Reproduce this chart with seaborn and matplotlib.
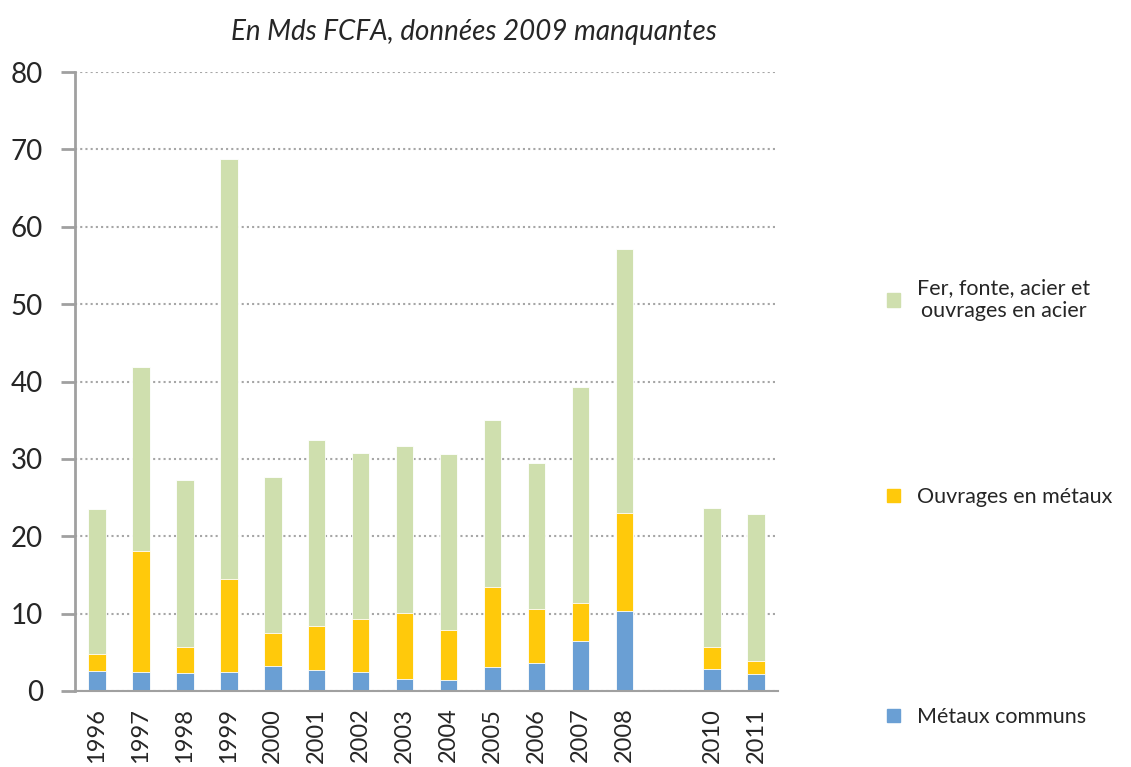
import numpy as np
import pandas as pd
import matplotlib.pyplot as plt
import seaborn as sns
from matplotlib.patches import Patch

# values (Mds FCFA), 2009 missing
annees = ['1996', '1997', '1998', '1999', '2000', '2001', '2002', '2003',
          '2004', '2005', '2006', '2007', '2008', '2009', '2010', '2011']
metaux_communs = [2.6, 2.4, 2.3, 2.5, 3.2, 2.75, 2.4, 1.6,
                  1.4, 3.1, 3.6, 6.5, 10.4, np.nan, 2.9, 2.15]
ouvrages_metaux = [2.2, 15.7, 3.4, 12.0, 4.3, 5.65, 6.9, 8.5,
                   6.5, 10.3, 7.0, 4.9, 12.6, np.nan, 2.8, 1.75]
fer_fonte_acier = [18.7, 23.8, 21.6, 54.2, 20.1, 24.1, 21.4, 21.5,
                   22.7, 21.6, 18.9, 27.9, 34.1, np.nan, 17.9, 19.0]
labels_x = [a if a != '2009' else '' for a in annees]

noms = ['Fer, fonte, acier et\nouvrages en acier', 'Ouvrages en métaux', 'Métaux communs']
couleurs = ['#cfdfae', '#ffc90b', '#6a9fd4']

df = pd.DataFrame({'annee': annees, 'metaux': metaux_communs,
                   'ouvrages': ouvrages_metaux, 'fer': fer_fonte_acier})
df['bas'] = df['metaux']
df['milieu'] = df['metaux'] + df['ouvrages']
df['total'] = df['milieu'] + df['fer']

sns.set_style('white')
plt.rcParams['font.family'] = ['Lato', 'DejaVu Sans']

fig = plt.figure(figsize=(11.31, 7.67), dpi=100)
ax = fig.add_axes([0.0663, 0.0991, 0.6217, 0.8070])

# stacked bars: draw cumulative totals back to front
for col, c in zip(['total', 'milieu', 'bas'], couleurs):
    sns.barplot(data=df, x='annee', y=col, order=annees, color=c, width=0.4,
                saturation=1, errorbar=None, edgecolor='white', linewidth=0.6, ax=ax)

ax.set_xlim(-0.5, len(annees) - 0.5)
ax.set_ylim(0, 80)
ax.set_yticks(range(0, 81, 10))
ax.set_xlabel('')
ax.set_ylabel('')
ax.set_xticks(range(len(annees)))
ax.set_xticklabels(labels_x, rotation=90, fontsize=17, va='top')
ax.set_xticks(np.arange(-0.5, len(annees), 1), minor=True)
ax.tick_params(axis='x', which='major', length=0, pad=12)
ax.tick_params(axis='x', which='minor', length=9, width=1.5, color='#a0a0a0', direction='out')
ax.tick_params(axis='y', length=10, width=2, color='#a0a0a0', direction='out',
               labelsize=20, pad=13, left=True)

ax.yaxis.grid(True, linestyle=(0, (1, 1.5)), color='#a6a6a6', linewidth=1.5)
ax.xaxis.grid(False)
ax.set_axisbelow(True)
for s in ['top', 'right']:
    ax.spines[s].set_visible(False)
ax.spines['left'].set_color('#a0a0a0')
ax.spines['left'].set_linewidth(2)
ax.spines['bottom'].set_color('#a0a0a0')
ax.spines['bottom'].set_linewidth(1.5)

fig.text(0.419, 0.958, 'En Mds FCFA, données 2009 manquantes', ha='center', va='center',
         fontsize=20, style='italic')

# legend entries spread down the right side
for nom, c, y in zip(noms, couleurs, [0.609, 0.352, 0.065]):
    leg = fig.legend(handles=[Patch(color=c)], labels=[nom], loc='center left',
                     bbox_to_anchor=(0.767, y), frameon=False, handlelength=0.6,
                     handleheight=0.6, handletextpad=0.8,
                     prop={'size': 15.5})
    for t in leg.get_texts():
        t.set_multialignment('center')

fig.savefig('out.png', dpi=100)
